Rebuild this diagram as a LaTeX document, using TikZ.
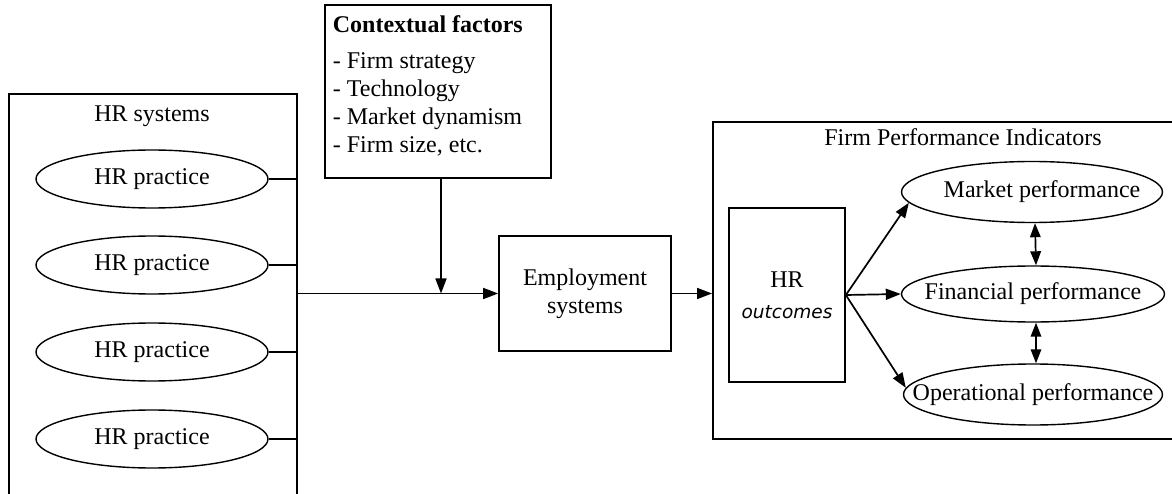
\documentclass[tikz,border=0pt]{standalone}
\usepackage{fontspec}
\setmainfont{Liberation Serif}
\newfontfamily\outfont{DejaVu Sans}
\usetikzlibrary{shapes.geometric,arrows.meta}
\begin{document}
\begin{tikzpicture}[x=1pt,y=-1pt,
  line width=1.7pt,
  every node/.style={font=\fontsize{24}{28}\selectfont, inner sep=0pt},
  box/.style={draw, rectangle},
  practice/.style={draw, ellipse, line width=1.4pt, minimum width=232pt, minimum height=58pt},
  perf/.style={draw, ellipse, line width=1.4pt},
  arr/.style={-{Triangle[length=15pt,width=11pt]}},
  dbl/.style={{Triangle[length=14pt,width=10.5pt]}-{Triangle[length=14pt,width=10.5pt]}},
  item/.style={anchor=base west}
]
\useasboundingbox (0,0) rectangle (1172,494);
\clip (0,0) rectangle (1172,494);
\fill[white] (0,0) rectangle (1172,494);

% HR systems with its practices
\node[box, anchor=north west, minimum width=288pt, minimum height=430pt] (hrsys) at (8,93) {};
\node (hrsystitle) at (152,116) {HR systems};
\node[practice, label={[name=p1t]center:HR practice}] (p1) at (152,179) {};
\node[practice, label={[name=p2t]center:HR practice}] (p2) at (152,265) {};
\node[practice, label={[name=p3t]center:HR practice}] (p3) at (152,352) {};
\node[practice, label={[name=p4t]center:HR practice}] (p4) at (152,439) {};
\foreach \p in {p1,p2,p3,p4}
  \draw (\p.east) -- (\p.east -| hrsys.east);

% Contextual factors
\node[box, minimum width=226pt, minimum height=173pt] (ctx) at (438,91.5) {};
\node[item] (ctxtitle) at (332,32.5) {\bfseries Contextual factors};
\node[item] (ctx1) at (332,69) {- Firm strategy};
\node[item] (ctx2) at (332,97) {- Technology};
\node[item] (ctx3) at (332,125) {- Market dynamism};
\node[item] (ctx4) at (332,153) {- Firm size, etc.};

% Employment systems
\node[box, minimum width=172pt, minimum height=115pt, align=center] (emp) at (585,293.5) {Employment\\systems};
\coordinate (join) at (441,293.5);
\draw[arr] (hrsys.east |- emp.west) -- (emp.west);
\draw[arr] (ctx.south -| join) -- (join);

% Firm performance indicators
\node[box, anchor=north west, minimum width=470pt, minimum height=317pt] (fpi) at (712,121) {};
\node (fpititle) at (963,137) {Firm Performance Indicators};
\draw[arr] (emp.east) -- (emp.east -| fpi.west);

\node[box, minimum width=116pt, minimum height=174pt, align=center] (hro) at (787,295)
  {HR\\[3pt]{\outfont\itshape\fontsize{18.5}{22}\selectfont outcomes}};

\node[perf, minimum width=261pt, minimum height=61pt,
  label={[name=mktt, xshift=10pt]center:Market performance}] (mkt) at (1032,192) {};
\node[perf, minimum width=263pt, minimum height=56pt,
  label={[name=fint]center:Financial performance}] (fin) at (1033,294) {};
\node[perf, minimum width=259pt, minimum height=61pt,
  label={[name=opst]center:Operational performance}] (ops) at (1033,394.5) {};

\draw[arr] (hro.east) -- (mkt.185);
\draw[arr] (hro.east) -- (fin.west);
\draw[arr] (hro.east) -- (ops.177);
\draw[dbl] ([xshift=3pt]mkt.south) -- ([xshift=3pt]fin.north);
\draw[dbl] ([xshift=3pt]fin.south) -- ([xshift=3pt]ops.north);
\end{tikzpicture}
\end{document}
